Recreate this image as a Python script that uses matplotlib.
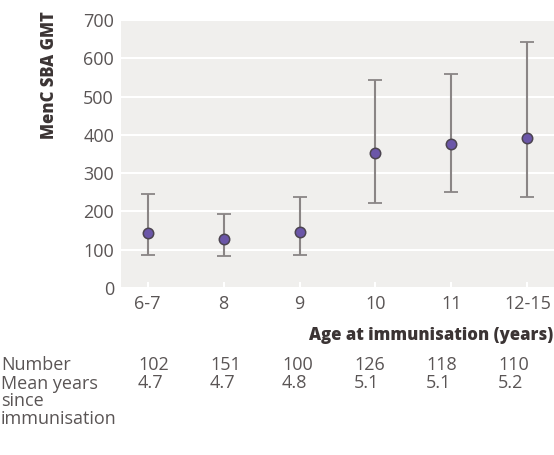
import numpy as np
import matplotlib.pyplot as plt

ages = ["6-7", "8", "9", "10", "11", "12-15"]
gmt = [144, 127, 146, 352, 376, 393]
ci_low = [86, 84, 87, 222, 250, 238]
ci_high = [245, 194, 237, 543, 559, 643]
number = [102, 151, 100, 126, 118, 110]
mean_years = [4.7, 4.7, 4.8, 5.1, 5.1, 5.2]

plt.rcParams['font.family'] = ['Open Sans', 'DejaVu Sans']
txt = '#5a5555'
dark = '#3b3434'
fs = 13

fig = plt.figure(figsize=(5.54, 4.55), dpi=100)
# axes box in pixels: left 121, right 554, top 20, bottom 288
ax = fig.add_axes([121 / 554, 1 - 288 / 455, (554 - 121) / 554, (288 - 20) / 455])
ax.set_facecolor('#f0efed')

x = np.arange(len(ages))
g = np.array(gmt)
yerr = [g - np.array(ci_low), np.array(ci_high) - g]
ax.errorbar(x, g, yerr=yerr, fmt='none', ecolor='#8a8585', elinewidth=1.5,
            capsize=5, capthick=1.3, zorder=3)
ax.plot(x, g, 'o', ms=7.5, mfc='#6b56a8', mec='#4c4450', mew=1.1, zorder=4)

ax.set_xlim(-0.35, 5.35)
ax.set_ylim(0, 700)
ax.set_yticks(range(0, 701, 100))
ax.set_xticks(x)
ax.set_xticklabels(ages)
ax.grid(axis='y', color='white', lw=1.5)
ax.set_axisbelow(True)
for s in ax.spines.values():
    s.set_visible(False)
ax.tick_params(axis='y', length=0, labelsize=fs, labelcolor=txt, pad=5)
ax.tick_params(axis='x', direction='in', length=4, width=1.5, color='white',
               labelsize=fs, labelcolor=txt, pad=5)

fig.text(50 / 554, 1 - 75 / 455, "MenC SBA GMT", rotation=90, ha='center', va='center',
         fontsize=12, fontweight='heavy', color=dark)
fig.text(553 / 554, 1 - 335 / 455, "Age at immunisation (years)", ha='right', va='center',
         fontsize=12, fontweight='heavy', color=dark)

# table under the chart
row_y = [365, 383]
fig.text(1 / 554, 1 - row_y[0] / 455, "Number", ha='left', va='center', fontsize=fs, color=txt)
fig.text(1 / 554, 1 - (row_y[1] - 8) / 455, "Mean years\nsince\nimmunisation", ha='left', va='top',
         fontsize=fs, color=txt, linespacing=0.95)
for i in range(len(ages)):
    xp = (138 + 72 * i) / 554
    fig.text(xp, 1 - row_y[0] / 455, str(number[i]), ha='left', va='center', fontsize=fs, color=txt)
    fig.text(xp, 1 - row_y[1] / 455, f"{mean_years[i]:.1f}", ha='left', va='center', fontsize=fs, color=txt)

fig.savefig('out.png', dpi=100)
